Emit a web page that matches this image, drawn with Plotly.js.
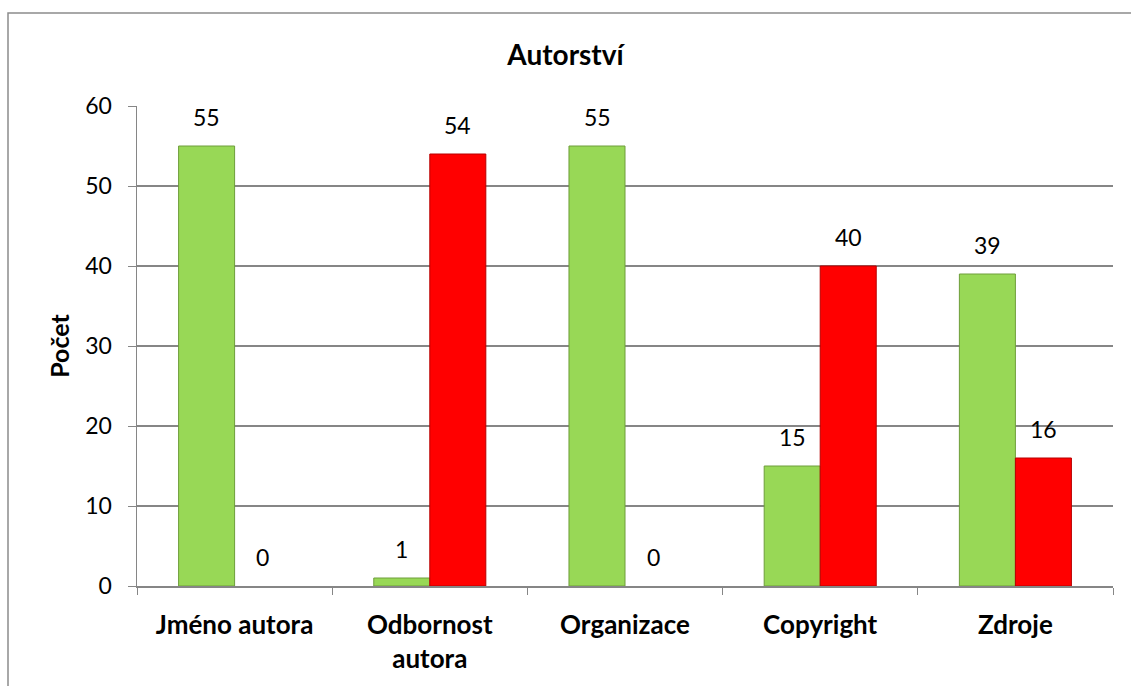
<!DOCTYPE html>
<html>
<head>
<meta charset="utf-8">
<script src="https://cdn.plot.ly/plotly-3.0.1.min.js"></script>
<style>html,body{margin:0;padding:0;background:#fff;}#chart{width:1131px;height:686px;}</style>
</head>
<body>
<div id="chart"></div>
<script>
var categories = ["Jméno autora", "Odbornost<br>autora", "Organizace", "Copyright", "Zdroje"];
var greenValues = [55, 1, 55, 15, 39];
var redValues = [0, 54, 0, 40, 16];
var chartTitle = "Autorství";
var yTitle = "Počet";

var FONT = "Lato, 'Open Sans', sans-serif";

function lineWidths(vals) { return vals.map(function (v) { return v > 0 ? 1 : 0; }); }

var traces = [
  {
    type: "bar", x: categories, y: greenValues, name: "Ano",
    marker: {color: "#98D856", line: {color: "#6E9E3A", width: lineWidths(greenValues)}},
    hoverinfo: "y"
  },
  {
    type: "bar", x: categories, y: redValues, name: "Ne",
    marker: {color: "#FF0000", line: {color: "#B80000", width: lineWidths(redValues)}},
    hoverinfo: "y"
  }
];

var annotations = [];
categories.forEach(function (c, i) {
  annotations.push({x: c, y: greenValues[i], xref: "x", yref: "y", text: String(greenValues[i]),
    showarrow: false, xshift: -28, yshift: 13, yanchor: "bottom",
    font: {family: FONT, size: 23, color: "#000"}});
  annotations.push({x: c, y: redValues[i], xref: "x", yref: "y", text: String(redValues[i]),
    showarrow: false, xshift: 28, yshift: 13, yanchor: "bottom",
    font: {family: FONT, size: 23, color: "#000"}});
});

var layout = {
  width: 1131, height: 686,
  margin: {l: 137, r: 18, t: 106, b: 100},
  paper_bgcolor: "#fff", plot_bgcolor: "#fff",
  showlegend: false,
  barmode: "group", bargap: 0.426, bargroupgap: 0,
  title: {text: "<b>" + chartTitle + "</b>", x: 0.5, xref: "container", y: 1 - 55 / 686, yref: "container",
    yanchor: "middle", font: {family: FONT, size: 28, color: "#000"}},
  font: {family: FONT, color: "#000"},
  xaxis: {
    type: "category", tickson: "boundaries", ticks: "outside", ticklen: 7, tickcolor: "#868686",
    showline: true, linecolor: "#868686", linewidth: 1.5, showgrid: false,
    tickfont: {family: FONT, size: 26, color: "#000"}, tickprefix: "<b>", ticksuffix: "</b>",
    ticklabelstandoff: 15,
    fixedrange: true
  },
  yaxis: {
    range: [0, 60], dtick: 10, ticks: "outside", ticklen: 8, tickcolor: "#868686",
    showline: true, linecolor: "#868686", linewidth: 1.5,
    showgrid: true, gridcolor: "#868686", gridwidth: 1.5, zeroline: false,
    tickfont: {family: FONT, size: 23, color: "#000"}, ticklabelstandoff: 11,
    title: {text: "<b>" + yTitle + "</b>", font: {family: FONT, size: 25, color: "#000"}, standoff: 8},
    fixedrange: true
  },
  annotations: annotations,
  shapes: [{
    type: "rect", xref: "paper", yref: "paper",
    x0: (8 - 137) / 976, x1: 1.1, y0: -0.5, y1: (586 - 13) / 480,
    line: {color: "#8C8C8C", width: 1.5}, fillcolor: "rgba(0,0,0,0)", layer: "below"
  }]
};

Plotly.newPlot("chart", traces, layout, {displayModeBar: false, staticPlot: true});
</script>
</body>
</html>
